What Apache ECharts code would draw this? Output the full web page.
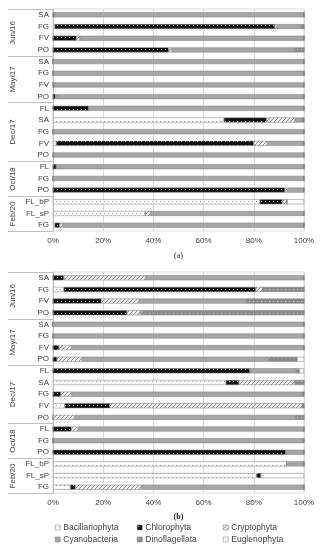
<!DOCTYPE html>
<html>
<head>
<meta charset="utf-8">
<script src="https://cdn.jsdelivr.net/npm/echarts@6/dist/echarts.min.js"></script>
<style>
body { margin: 0; background: #fff; }
#chart { width: 320px; height: 550px; }
</style>
</head>
<body>
<div id="chart"></div>
<script>
// row labels, top to bottom, grouped by campaign
var groupNames = ['Jun/16', 'May/17', 'Dec/17', 'Oct/18', 'Feb/20'];
var groupSites = [
    ['SA', 'FG', 'FV', 'PO'],
    ['SA', 'FG', 'FV', 'PO'],
    ['FL', 'SA', 'FG', 'FV', 'PO'],
    ['FL', 'FG', 'PO'],
    ['FL_bP', 'FL_sP', 'FG']
];
var taxa = ['Bacillariophyta', 'Chlorophyta', 'Cryptophyta', 'Cyanobacteria', 'Dinoflagellata', 'Euglenophyta'];
var xTicks = [0, 20, 40, 60, 80, 100];

// panel (a), % per row
var bacA   = [0, 0.7, 0, 0, 0, 0, 0, 0, 0, 68.1, 0, 1.3, 0, 0, 0, 0, 82.4, 36.8, 0.7];
var chlA   = [0.4, 87.7, 9.3, 46.1, 0, 0, 0.3, 1.0, 14.2, 17.0, 0, 78.7, 0.2, 1.3, 0, 92.4, 9.0, 0, 2.0];
var cryA   = [0, 0.8, 1.3, 1.3, 0, 0, 0, 0.5, 0, 11.3, 0, 5.3, 0, 0, 0, 0.9, 1.9, 2.0, 1.1];
var cyaA   = [99.6, 9.5, 89.4, 48.7, 100, 100, 99.7, 98.5, 85.8, 2.7, 100, 14.6, 99.8, 98.7, 100, 6.6, 0, 61.2, 96.2];
var dinA   = [0, 1.3, 0, 3.9, 0, 0, 0, 0, 0, 0.9, 0, 0.1, 0, 0, 0, 0.1, 0, 0, 0];
var eugA   = [0, 0, 0, 0, 0, 0, 0, 0, 0, 0, 0, 0, 0, 0, 0, 0, 6.7, 0, 0];

// panel (b)
var bacB   = [0, 4.3, 0, 0, 0, 0, 0, 0, 0, 68.9, 0, 4.7, 0, 0, 0, 0, 93.1, 81.1, 6.9];
var chlB   = [4.3, 76.5, 19.3, 29.5, 0, 0, 2.4, 1.6, 78.5, 5.2, 3.1, 18.0, 0, 7.3, 0, 92.7, 0, 1.7, 2.0];
var cryB   = [32.6, 2.7, 15.0, 5.3, 0, 0.3, 4.9, 10.0, 0, 22.3, 4.3, 76.7, 8.6, 2.7, 0, 0, 0.6, 0, 26.3];
var cyaB   = [62.5, 0, 42.4, 1.0, 100, 99.7, 92.7, 74.2, 18.4, 0, 91.4, 0, 87.8, 90.0, 99.8, 7.3, 6.3, 0, 64.8];
var dinB   = [0.6, 16.5, 23.3, 64.2, 0, 0, 0, 11.5, 1.3, 3.6, 1.2, 0.6, 3.6, 0, 0.2, 0, 0, 0, 0];
var eugB   = [0, 0, 0, 0, 0, 0, 0, 2.7, 1.8, 0, 0, 0, 0, 0, 0, 0, 0, 17.2, 0];

var chart = echarts.init(document.getElementById('chart'));

// small pattern tiles
function tile(bg, fg, pts) {
    var c = document.createElement('canvas');
    c.width = 4; c.height = 4;
    var ctx = c.getContext('2d');
    ctx.fillStyle = bg; ctx.fillRect(0, 0, 4, 4);
    ctx.fillStyle = fg;
    pts.forEach(function (p) { ctx.fillRect(p[0], p[1], 1, 1); });
    return { image: c, repeat: 'repeat' };
}
var fills = [
    tile('#ffffff', '#9a9a9a', [[0, 1]]),
    tile('#111111', '#c8c8c8', [[1, 1]]),
    tile('#f2f2f2', '#8c8c8c', [[3, 0], [2, 1], [1, 2], [0, 3]]),
    '#a6a6a6',
    tile('#8a8a8a', '#cfcfcf', [[1, 1]]),
    '#ffffff'
];

var rowKeys = [];
var groupSizes = [];
groupSites.forEach(function (s, g) {
    groupSizes.push(s.length);
    s.forEach(function (site) { rowKeys.push(groupNames[g] + '|' + site); });
});

var font = '"Liberation Sans", Arial, sans-serif';
var txt = '#404040';

function xAxisFor(i) {
    return {
        type: 'value', gridIndex: i, min: 0, max: 100, interval: 20,
        axisLine: { show: false }, axisTick: { show: false },
        axisLabel: { formatter: '{value}%', fontSize: 8, color: txt, fontFamily: font, margin: 6 },
        splitLine: { lineStyle: { color: '#d9d9d9', width: 1 } }
    };
}
function yAxisFor(i) {
    return {
        type: 'category', gridIndex: i, inverse: true, data: rowKeys,
        axisTick: { show: false },
        axisLine: { lineStyle: { color: '#bfbfbf' } },
        axisLabel: {
            fontSize: 8, color: txt, fontFamily: font, margin: 4,
            formatter: function (v) { return v.split('|')[1]; }
        }
    };
}

var panels = [[bacA, chlA, cryA, cyaA, dinA, eugA], [bacB, chlB, cryB, cyaB, dinB, eugB]];
var series = [];
panels.forEach(function (vals, p) {
    vals.forEach(function (arr, k) {
        series.push({
            name: taxa[k], type: 'bar', stack: 'p' + p,
            xAxisIndex: p, yAxisIndex: p, barWidth: 5,
            itemStyle: { color: fills[k], borderColor: '#7a7a7a', borderWidth: 0.5 },
            data: arr
        });
    });
});

var legendCols = [55, 137, 223];
var legendRows = [523, 535];
var legends = taxa.map(function (t, k) {
    return {
        data: [t], left: legendCols[k % 3], top: legendRows[Math.floor(k / 3)],
        icon: 'rect', itemWidth: 5, itemHeight: 5, itemGap: 2,
        padding: 0,
        itemStyle: { borderColor: '#7a7a7a', borderWidth: 0.5 },
        textStyle: { fontSize: 8.5, color: txt, fontFamily: font, padding: [0, 0, 0, -2] }
    };
});

chart.setOption({
    animation: false,
    backgroundColor: '#fff',
    grid: [
        { left: 53, right: 16, top: 9, height: 222, show: true, borderColor: '#d9d9d9', borderWidth: 1 },
        { left: 53, right: 16, top: 272, height: 221, show: true, borderColor: '#d9d9d9', borderWidth: 1 }
    ],
    xAxis: [xAxisFor(0), xAxisFor(1)],
    yAxis: [yAxisFor(0), yAxisFor(1)],
    legend: legends,
    series: series
});

// group labels and separators on the left of each panel
var els = [];
[0, 1].forEach(function (p) {
    var c0 = chart.convertToPixel({ yAxisIndex: p }, 0);
    var c1 = chart.convertToPixel({ yAxisIndex: p }, 1);
    var band = c1 - c0;
    var xLeft = chart.convertToPixel({ xAxisIndex: p }, 0);
    var start = 0;
    groupSizes.forEach(function (n, g) {
        var yTop = Math.round(c0 + (start - 0.5) * band) + 0.5;
        var yBot = Math.round(c0 + (start + n - 0.5) * band) + 0.5;
        els.push({ type: 'line', shape: { x1: 8, y1: yTop, x2: xLeft, y2: yTop }, style: { stroke: '#bfbfbf', lineWidth: 1 } });
        if (g === groupSizes.length - 1) {
            els.push({ type: 'line', shape: { x1: 8, y1: yBot, x2: xLeft, y2: yBot }, style: { stroke: '#bfbfbf', lineWidth: 1 } });
        }
        els.push({
            type: 'text', x: 13, y: (yTop + yBot) / 2, rotation: Math.PI / 2,
            style: { text: groupNames[g], fill: txt, font: '8px ' + font, align: 'center', verticalAlign: 'middle' }
        });
        start += n;
    });
    var xMid = (xLeft + chart.convertToPixel({ xAxisIndex: p }, 100)) / 2;
    els.push({
        type: 'text', x: xMid, y: p === 0 ? 256 : 517,
        style: { text: p === 0 ? '(a)' : '(b)', fill: '#222', font: (p === 0 ? '' : 'bold ') + '8px "Liberation Serif", serif', align: 'center', verticalAlign: 'middle' }
    });
});
chart.setOption({ graphic: { elements: els } });
</script>
</body>
</html>
